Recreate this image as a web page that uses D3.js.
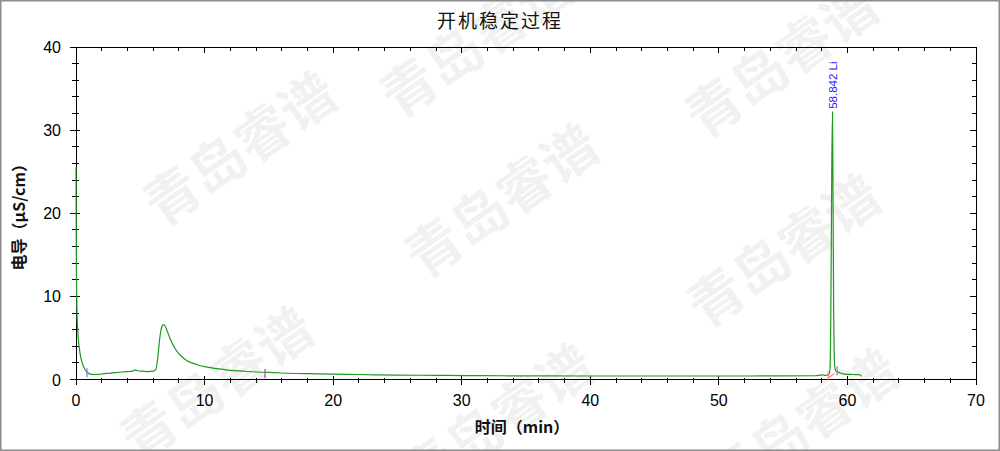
<!DOCTYPE html>
<html><head><meta charset="utf-8">
<script src="https://cdn.jsdelivr.net/npm/d3@7"></script>
<style>body{margin:0;background:#fff}svg{display:block}</style>
</head><body>
<script>
// ---- data ----
const chartTitle = "开机稳定过程";
const xLabel = "时间（min）";
const yLabel = "电导（μS/cm）";
const xTicks = [0, 10, 20, 30, 40, 50, 60, 70];
const yTicks = [0, 10, 20, 30, 40];
const traceTime = [0, 0.03, 0.08, 0.15, 0.25, 0.35, 0.5, 0.7, 0.9, 1.1, 1.4, 1.8, 2.2, 2.6, 3.0, 3.5, 4.0, 4.4, 4.6, 4.8, 5.2, 5.6, 6.0, 6.2, 6.35, 6.5, 6.65, 6.8, 6.95, 7.1, 7.3, 7.6, 7.9, 8.2, 8.6, 9.0, 9.5, 10, 11, 12, 13, 14, 15, 16, 18, 20, 22, 25, 28, 30, 33, 36, 40, 45, 50, 55, 57.5, 58.0, 58.3, 58.55, 58.65, 58.72, 58.78, 58.84, 58.88, 58.93, 58.97, 59.02, 59.1, 59.2, 59.35, 59.6, 60.0, 60.5, 60.9, 61.1];
const traceSignal = [25.5, 14, 8, 5.5, 3.9, 2.8, 1.9, 1.2, 0.85, 0.65, 0.6, 0.62, 0.7, 0.75, 0.82, 0.9, 0.95, 1.0, 1.15, 1.05, 1.0, 0.95, 1.0, 1.2, 2.5, 4.8, 6.2, 6.6, 6.4, 5.8, 5.0, 4.0, 3.3, 2.8, 2.3, 2.0, 1.75, 1.55, 1.3, 1.1, 1.0, 0.9, 0.85, 0.78, 0.7, 0.65, 0.6, 0.52, 0.5, 0.47, 0.45, 0.43, 0.42, 0.42, 0.42, 0.43, 0.45, 0.55, 0.5, 0.55, 1.5, 10, 25, 32.2, 22, 8, 3, 1.5, 1.0, 0.9, 0.85, 0.7, 0.62, 0.6, 0.58, 0.4];
const peakTimes = [58.842];
const peakHeights = [32.2];
const peakNames = ["58.842 Li"];
const markTimes = [0.85, 14.7, 59.2];
const markLevels = [0.75, 0.65, 1.0];
const markColors = ["#7a7aff", "#b050b0", "#909090"];
const baseStart = [58.5, 0.15];
const baseEnd = [59.0, 0.75];
const watermarkText = "青岛睿谱";

// ---- layout ----
const W = 1000, H = 451;
const m = {l: 76, r: 24, t: 47, b: 71.5};
const svg = d3.select("body").append("svg").attr("width", W).attr("height", H);
svg.append("rect").attr("x", 0).attr("y", 0).attr("width", W).attr("height", H).attr("fill", "#fff");

const x = d3.scaleLinear().domain([0, 70]).range([m.l, W - m.r]);
const y = d3.scaleLinear().domain([0, 40]).range([H - m.b, m.t]);

// watermark
const wmCenters = [[480, 45], [785, 65], [243, 153], [505, 205], [787, 255], [220, 388], [500, 425], [805, 430]];
const wm = svg.append("g");
wmCenters.forEach(c => {
  wm.append("text").attr("transform", `translate(${c[0]},${c[1]}) rotate(-35)`)
    .attr("text-anchor", "middle").attr("dominant-baseline", "middle")
    .attr("font-family", "'Noto Sans CJK SC'").attr("font-weight", "bold").attr("font-size", 55)
    .attr("fill", "#000").attr("fill-opacity", 0.055).text(watermarkText);
});

// outer frame
svg.append("rect").attr("x", 0.75).attr("y", 0.75).attr("width", W - 1.5).attr("height", H - 1.5)
  .attr("fill", "none").attr("stroke", "#8c8c8c").attr("stroke-width", 1.5);

// title
svg.append("text").attr("x", 500).attr("y", 28).attr("text-anchor", "middle")
  .attr("font-family", "'Noto Sans CJK SC'").attr("font-size", 19).attr("letter-spacing", 2).attr("fill", "#111").text(chartTitle);

// axes
const axG = svg.append("g").attr("stroke", "#000").attr("shape-rendering", "crispEdges");
const x0 = x(0), x1 = x(70), y0 = y(0), y1 = y(40);
axG.append("line").attr("x1", x0 - 6).attr("x2", x1).attr("y1", y0).attr("y2", y0);
axG.append("line").attr("x1", x0 - 6).attr("x2", x1).attr("y1", y1).attr("y2", y1);
axG.append("line").attr("x1", x0).attr("x2", x0).attr("y1", y1).attr("y2", y0 + 5);
axG.append("line").attr("x1", x1).attr("x2", x1).attr("y1", y1).attr("y2", y0 + 5);

const xMinor = d3.range(0, 70.01, 2);
const yMinor = d3.range(0, 40.01, 2);
xMinor.forEach(v => {
  const major = v % 10 === 0;
  axG.append("line").attr("x1", x(v)).attr("x2", x(v)).attr("y1", y0 - (major ? 4 : 2)).attr("y2", y0 + (major ? 5 : 3));
  axG.append("line").attr("x1", x(v)).attr("x2", x(v)).attr("y1", y1).attr("y2", y1 + (major ? 6 : 4));
});
yMinor.forEach(v => {
  const major = v % 10 === 0;
  axG.append("line").attr("y1", y(v)).attr("y2", y(v)).attr("x1", x0 - (major ? 6 : 4)).attr("x2", x0 + (major ? 4 : 3));
  axG.append("line").attr("y1", y(v)).attr("y2", y(v)).attr("x1", x1 - (major ? 6 : 4)).attr("x2", x1);
});

// tick labels
svg.append("g").selectAll("text").data(xTicks).join("text")
  .attr("x", d => x(d)).attr("y", y0 + 26).attr("text-anchor", "middle")
  .attr("font-family", "'Liberation Sans', Arial").attr("font-size", 16).attr("fill", "#000").text(d => d);
svg.append("g").selectAll("text").data(yTicks).join("text")
  .attr("x", x0 - 15).attr("y", d => y(d) + 6).attr("text-anchor", "end")
  .attr("font-family", "'Liberation Sans', Arial").attr("font-size", 16).attr("fill", "#000").text(d => d);

// axis labels
svg.append("text").attr("x", 522).attr("y", 433).attr("text-anchor", "middle")
  .attr("font-family", "'Noto Sans CJK SC'").attr("font-weight", "bold").attr("font-size", 16).attr("fill", "#111").text(xLabel);
svg.append("text").attr("transform", `translate(25,${(y0 + y1) / 2}) rotate(-90)`).attr("text-anchor", "middle")
  .attr("font-family", "'Noto Sans CJK SC'").attr("font-weight", "bold").attr("font-size", 16).attr("fill", "#111").text(yLabel);

// trace
const pts = traceTime.map((t, i) => [t, traceSignal[i]]);
const line = d3.line().x(d => x(d[0])).y(d => y(d[1])).curve(d3.curveMonotoneX);
svg.append("path").datum(pts).attr("d", line).attr("fill", "none")
  .attr("stroke", "#1f9a1f").attr("stroke-width", 1.2).attr("stroke-linejoin", "round");

// baseline of peak
svg.append("line").attr("x1", x(baseStart[0])).attr("y1", y(baseStart[1])).attr("x2", x(baseEnd[0])).attr("y2", y(baseEnd[1]))
  .attr("stroke", "#ff5050").attr("stroke-width", 1);
svg.append("line").attr("x1", x(baseStart[0])).attr("x2", x(baseStart[0])).attr("y1", y(baseStart[1]) + 2).attr("y2", y(baseStart[1]) - 7)
  .attr("stroke", "#ff7070").attr("stroke-width", 1);

// markers
markTimes.forEach((t, i) => {
  svg.append("line").attr("x1", x(t)).attr("x2", x(t)).attr("y1", y(markLevels[i]) - 5).attr("y2", y(markLevels[i]) + 4)
    .attr("stroke", markColors[i]).attr("stroke-width", 1.3);
});

// peak labels
peakTimes.forEach((t, i) => {
  svg.append("text").attr("transform", `translate(${x(t) + 4},${y(peakHeights[i]) - 3}) rotate(-90)`)
    .attr("font-family", "'Liberation Sans', Arial").attr("font-size", 11.5).attr("fill", "#2020ff").text(peakNames[i]);
});
</script>
</body></html>
